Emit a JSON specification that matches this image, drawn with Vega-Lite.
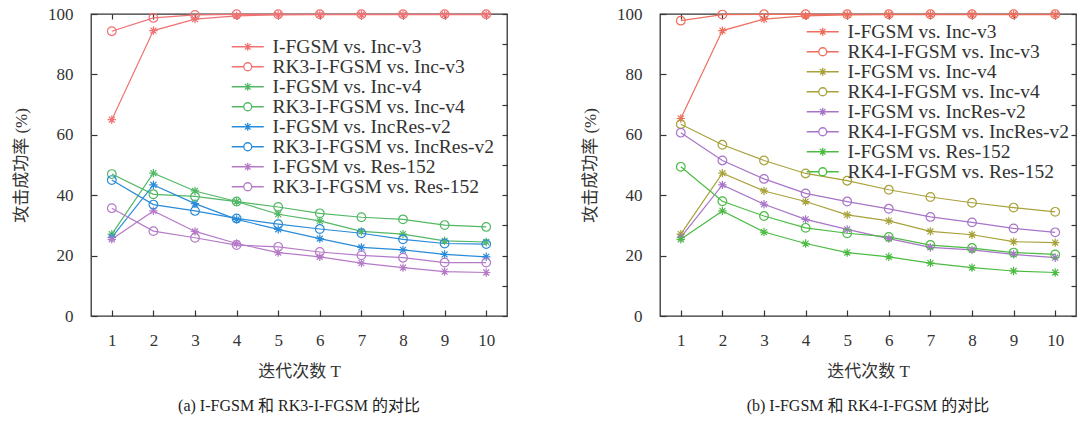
{
  "$schema": "https://vega.github.io/schema/vega-lite/v6.json",
  "padding": {"left": 11, "top": 4, "right": 4, "bottom": 0},
  "background": "white",
  "bounds": "flush",
  "spacing": 153,
  "resolve": {"scale": {"color": "independent"}, "legend": {"color": "independent"}},
  "config": {
    "font": "'Liberation Serif', 'Times New Roman', serif",
    "view": {"stroke": "#333", "strokeWidth": 1.3},
    "axis": {"domain": false, "grid": false, "tickColor": "#333", "tickWidth": 1.2, "labelColor": "#333", "titleColor": "#333",
      "labelFont": "'Liberation Serif', serif", "labelFontSize": 17, "titleFont": "'Liberation Serif', 'Noto Sans CJK SC', serif", "titleFontSize": 17,
      "titleFontWeight": "normal", "tickSize": -6, "labelFlush": false, "labelOverlap": false, "labelBound": false},
    "legend": {"orient": "none", "title": null, "padding": 0, "labelFont": "'Liberation Serif', serif", "labelFontSize": 19.5, "labelColor": "#333",
      "labelLimit": 400, "symbolSize": 100, "symbolOffset": 10, "labelOffset": 15, "rowPadding": -2.4, "symbolStrokeWidth": 1.3}
  },
  "datasets": {
    "a": [
      {"s":"I-FGSM vs. Inc-v3","t":1,"v":65.0},{"s":"I-FGSM vs. Inc-v3","t":2,"v":94.5},{"s":"I-FGSM vs. Inc-v3","t":3,"v":98.3},{"s":"I-FGSM vs. Inc-v3","t":4,"v":99.4},{"s":"I-FGSM vs. Inc-v3","t":5,"v":99.7},{"s":"I-FGSM vs. Inc-v3","t":6,"v":99.8},{"s":"I-FGSM vs. Inc-v3","t":7,"v":99.8},{"s":"I-FGSM vs. Inc-v3","t":8,"v":99.8},{"s":"I-FGSM vs. Inc-v3","t":9,"v":99.8},{"s":"I-FGSM vs. Inc-v3","t":10,"v":99.8},
      {"s":"RK3-I-FGSM vs. Inc-v3","t":1,"v":94.3},{"s":"RK3-I-FGSM vs. Inc-v3","t":2,"v":98.7},{"s":"RK3-I-FGSM vs. Inc-v3","t":3,"v":99.7},{"s":"RK3-I-FGSM vs. Inc-v3","t":4,"v":99.9},{"s":"RK3-I-FGSM vs. Inc-v3","t":5,"v":99.9},{"s":"RK3-I-FGSM vs. Inc-v3","t":6,"v":99.9},{"s":"RK3-I-FGSM vs. Inc-v3","t":7,"v":99.9},{"s":"RK3-I-FGSM vs. Inc-v3","t":8,"v":99.9},{"s":"RK3-I-FGSM vs. Inc-v3","t":9,"v":99.9},{"s":"RK3-I-FGSM vs. Inc-v3","t":10,"v":99.9},
      {"s":"I-FGSM vs. Inc-v4","t":1,"v":27.1},{"s":"I-FGSM vs. Inc-v4","t":2,"v":47.3},{"s":"I-FGSM vs. Inc-v4","t":3,"v":41.4},{"s":"I-FGSM vs. Inc-v4","t":4,"v":37.9},{"s":"I-FGSM vs. Inc-v4","t":5,"v":33.7},{"s":"I-FGSM vs. Inc-v4","t":6,"v":31.5},{"s":"I-FGSM vs. Inc-v4","t":7,"v":28.0},{"s":"I-FGSM vs. Inc-v4","t":8,"v":27.1},{"s":"I-FGSM vs. Inc-v4","t":9,"v":24.9},{"s":"I-FGSM vs. Inc-v4","t":10,"v":24.5},
      {"s":"RK3-I-FGSM vs. Inc-v4","t":1,"v":47.0},{"s":"RK3-I-FGSM vs. Inc-v4","t":2,"v":40.3},{"s":"RK3-I-FGSM vs. Inc-v4","t":3,"v":39.6},{"s":"RK3-I-FGSM vs. Inc-v4","t":4,"v":37.9},{"s":"RK3-I-FGSM vs. Inc-v4","t":5,"v":36.1},{"s":"RK3-I-FGSM vs. Inc-v4","t":6,"v":34.0},{"s":"RK3-I-FGSM vs. Inc-v4","t":7,"v":32.7},{"s":"RK3-I-FGSM vs. Inc-v4","t":8,"v":32.0},{"s":"RK3-I-FGSM vs. Inc-v4","t":9,"v":30.1},{"s":"RK3-I-FGSM vs. Inc-v4","t":10,"v":29.5},
      {"s":"I-FGSM vs. IncRes-v2","t":1,"v":26.0},{"s":"I-FGSM vs. IncRes-v2","t":2,"v":43.4},{"s":"I-FGSM vs. IncRes-v2","t":3,"v":37.2},{"s":"I-FGSM vs. IncRes-v2","t":4,"v":32.0},{"s":"I-FGSM vs. IncRes-v2","t":5,"v":28.7},{"s":"I-FGSM vs. IncRes-v2","t":6,"v":25.6},{"s":"I-FGSM vs. IncRes-v2","t":7,"v":22.7},{"s":"I-FGSM vs. IncRes-v2","t":8,"v":21.9},{"s":"I-FGSM vs. IncRes-v2","t":9,"v":20.4},{"s":"I-FGSM vs. IncRes-v2","t":10,"v":19.6},
      {"s":"RK3-I-FGSM vs. IncRes-v2","t":1,"v":45.0},{"s":"RK3-I-FGSM vs. IncRes-v2","t":2,"v":36.9},{"s":"RK3-I-FGSM vs. IncRes-v2","t":3,"v":34.8},{"s":"RK3-I-FGSM vs. IncRes-v2","t":4,"v":32.3},{"s":"RK3-I-FGSM vs. IncRes-v2","t":5,"v":30.4},{"s":"RK3-I-FGSM vs. IncRes-v2","t":6,"v":28.8},{"s":"RK3-I-FGSM vs. IncRes-v2","t":7,"v":27.4},{"s":"RK3-I-FGSM vs. IncRes-v2","t":8,"v":25.4},{"s":"RK3-I-FGSM vs. IncRes-v2","t":9,"v":24.0},{"s":"RK3-I-FGSM vs. IncRes-v2","t":10,"v":23.8},
      {"s":"I-FGSM vs. Res-152","t":1,"v":25.4},{"s":"I-FGSM vs. Res-152","t":2,"v":34.8},{"s":"I-FGSM vs. Res-152","t":3,"v":28.0},{"s":"I-FGSM vs. Res-152","t":4,"v":24.0},{"s":"I-FGSM vs. Res-152","t":5,"v":21.0},{"s":"I-FGSM vs. Res-152","t":6,"v":19.6},{"s":"I-FGSM vs. Res-152","t":7,"v":17.5},{"s":"I-FGSM vs. Res-152","t":8,"v":16.0},{"s":"I-FGSM vs. Res-152","t":9,"v":14.7},{"s":"I-FGSM vs. Res-152","t":10,"v":14.4},
      {"s":"RK3-I-FGSM vs. Res-152","t":1,"v":35.7},{"s":"RK3-I-FGSM vs. Res-152","t":2,"v":28.1},{"s":"RK3-I-FGSM vs. Res-152","t":3,"v":25.9},{"s":"RK3-I-FGSM vs. Res-152","t":4,"v":23.5},{"s":"RK3-I-FGSM vs. Res-152","t":5,"v":22.9},{"s":"RK3-I-FGSM vs. Res-152","t":6,"v":21.2},{"s":"RK3-I-FGSM vs. Res-152","t":7,"v":20.1},{"s":"RK3-I-FGSM vs. Res-152","t":8,"v":19.3},{"s":"RK3-I-FGSM vs. Res-152","t":9,"v":17.7},{"s":"RK3-I-FGSM vs. Res-152","t":10,"v":17.7}
    ],
    "b": [
      {"s":"I-FGSM vs. Inc-v3","t":1,"v":65.4},{"s":"I-FGSM vs. Inc-v3","t":2,"v":94.5},{"s":"I-FGSM vs. Inc-v3","t":3,"v":98.3},{"s":"I-FGSM vs. Inc-v3","t":4,"v":99.4},{"s":"I-FGSM vs. Inc-v3","t":5,"v":99.7},{"s":"I-FGSM vs. Inc-v3","t":6,"v":99.8},{"s":"I-FGSM vs. Inc-v3","t":7,"v":99.8},{"s":"I-FGSM vs. Inc-v3","t":8,"v":99.8},{"s":"I-FGSM vs. Inc-v3","t":9,"v":99.8},{"s":"I-FGSM vs. Inc-v3","t":10,"v":99.8},
      {"s":"RK4-I-FGSM vs. Inc-v3","t":1,"v":97.8},{"s":"RK4-I-FGSM vs. Inc-v3","t":2,"v":99.8},{"s":"RK4-I-FGSM vs. Inc-v3","t":3,"v":99.9},{"s":"RK4-I-FGSM vs. Inc-v3","t":4,"v":99.9},{"s":"RK4-I-FGSM vs. Inc-v3","t":5,"v":99.9},{"s":"RK4-I-FGSM vs. Inc-v3","t":6,"v":99.9},{"s":"RK4-I-FGSM vs. Inc-v3","t":7,"v":99.9},{"s":"RK4-I-FGSM vs. Inc-v3","t":8,"v":99.9},{"s":"RK4-I-FGSM vs. Inc-v3","t":9,"v":99.9},{"s":"RK4-I-FGSM vs. Inc-v3","t":10,"v":99.9},
      {"s":"I-FGSM vs. Inc-v4","t":1,"v":27.1},{"s":"I-FGSM vs. Inc-v4","t":2,"v":47.3},{"s":"I-FGSM vs. Inc-v4","t":3,"v":41.4},{"s":"I-FGSM vs. Inc-v4","t":4,"v":37.9},{"s":"I-FGSM vs. Inc-v4","t":5,"v":33.5},{"s":"I-FGSM vs. Inc-v4","t":6,"v":31.5},{"s":"I-FGSM vs. Inc-v4","t":7,"v":28.0},{"s":"I-FGSM vs. Inc-v4","t":8,"v":26.9},{"s":"I-FGSM vs. Inc-v4","t":9,"v":24.6},{"s":"I-FGSM vs. Inc-v4","t":10,"v":24.3},
      {"s":"RK4-I-FGSM vs. Inc-v4","t":1,"v":63.5},{"s":"RK4-I-FGSM vs. Inc-v4","t":2,"v":56.7},{"s":"RK4-I-FGSM vs. Inc-v4","t":3,"v":51.5},{"s":"RK4-I-FGSM vs. Inc-v4","t":4,"v":47.2},{"s":"RK4-I-FGSM vs. Inc-v4","t":5,"v":44.8},{"s":"RK4-I-FGSM vs. Inc-v4","t":6,"v":41.8},{"s":"RK4-I-FGSM vs. Inc-v4","t":7,"v":39.4},{"s":"RK4-I-FGSM vs. Inc-v4","t":8,"v":37.5},{"s":"RK4-I-FGSM vs. Inc-v4","t":9,"v":35.9},{"s":"RK4-I-FGSM vs. Inc-v4","t":10,"v":34.5},
      {"s":"I-FGSM vs. IncRes-v2","t":1,"v":26.0},{"s":"I-FGSM vs. IncRes-v2","t":2,"v":43.4},{"s":"I-FGSM vs. IncRes-v2","t":3,"v":37.0},{"s":"I-FGSM vs. IncRes-v2","t":4,"v":32.0},{"s":"I-FGSM vs. IncRes-v2","t":5,"v":28.7},{"s":"I-FGSM vs. IncRes-v2","t":6,"v":25.6},{"s":"I-FGSM vs. IncRes-v2","t":7,"v":22.7},{"s":"I-FGSM vs. IncRes-v2","t":8,"v":21.9},{"s":"I-FGSM vs. IncRes-v2","t":9,"v":20.4},{"s":"I-FGSM vs. IncRes-v2","t":10,"v":19.3},
      {"s":"RK4-I-FGSM vs. IncRes-v2","t":1,"v":60.7},{"s":"RK4-I-FGSM vs. IncRes-v2","t":2,"v":51.5},{"s":"RK4-I-FGSM vs. IncRes-v2","t":3,"v":45.4},{"s":"RK4-I-FGSM vs. IncRes-v2","t":4,"v":40.6},{"s":"RK4-I-FGSM vs. IncRes-v2","t":5,"v":37.9},{"s":"RK4-I-FGSM vs. IncRes-v2","t":6,"v":35.5},{"s":"RK4-I-FGSM vs. IncRes-v2","t":7,"v":32.8},{"s":"RK4-I-FGSM vs. IncRes-v2","t":8,"v":31.0},{"s":"RK4-I-FGSM vs. IncRes-v2","t":9,"v":29.0},{"s":"RK4-I-FGSM vs. IncRes-v2","t":10,"v":27.7},
      {"s":"I-FGSM vs. Res-152","t":1,"v":25.4},{"s":"I-FGSM vs. Res-152","t":2,"v":34.8},{"s":"I-FGSM vs. Res-152","t":3,"v":27.8},{"s":"I-FGSM vs. Res-152","t":4,"v":24.0},{"s":"I-FGSM vs. Res-152","t":5,"v":21.0},{"s":"I-FGSM vs. Res-152","t":6,"v":19.6},{"s":"I-FGSM vs. Res-152","t":7,"v":17.5},{"s":"I-FGSM vs. Res-152","t":8,"v":16.0},{"s":"I-FGSM vs. Res-152","t":9,"v":14.9},{"s":"I-FGSM vs. Res-152","t":10,"v":14.4},
      {"s":"RK4-I-FGSM vs. Res-152","t":1,"v":49.4},{"s":"RK4-I-FGSM vs. Res-152","t":2,"v":38.0},{"s":"RK4-I-FGSM vs. Res-152","t":3,"v":33.1},{"s":"RK4-I-FGSM vs. Res-152","t":4,"v":29.2},{"s":"RK4-I-FGSM vs. Res-152","t":5,"v":27.4},{"s":"RK4-I-FGSM vs. Res-152","t":6,"v":26.2},{"s":"RK4-I-FGSM vs. Res-152","t":7,"v":23.5},{"s":"RK4-I-FGSM vs. Res-152","t":8,"v":22.5},{"s":"RK4-I-FGSM vs. Res-152","t":9,"v":21.0},{"s":"RK4-I-FGSM vs. Res-152","t":10,"v":20.4}
    ]
  },
  "hconcat": [
    {
      "data": {"name": "a"},
      "width": 416, "height": 302,
      "title": {"text": "(a) I-FGSM 和 RK3-I-FGSM 的对比", "orient": "bottom", "offset": 19, "fontSize": 16, "font": "'Liberation Serif', 'Noto Sans CJK SC', serif", "fontWeight": "normal", "color": "#222"},
      "resolve": {"axis": {"x": "independent", "y": "independent"}},
      "layer": [
        {
          "mark": {"type": "line", "strokeWidth": 1.2},
          "encoding": {
            "x": {"field": "t", "type": "quantitative", "scale": {"domain": [0.5, 10.5], "nice": false, "zero": false},
              "axis": {"orient": "bottom", "values": [1,2,3,4,5,6,7,8,9,10], "title": "迭代次数 T", "labelPadding": 22, "titlePadding": 15}},
            "y": {"field": "v", "type": "quantitative", "scale": {"domain": [0, 100], "nice": false},
              "axis": {"orient": "left", "values": [0,20,40,60,80,100], "title": "攻击成功率 (%)", "labelPadding": 24, "titlePadding": 17}},
            "color": {"field": "s", "type": "nominal",
              "scale": {"domain": ["I-FGSM vs. Inc-v3","RK3-I-FGSM vs. Inc-v3","I-FGSM vs. Inc-v4","RK3-I-FGSM vs. Inc-v4","I-FGSM vs. IncRes-v2","RK3-I-FGSM vs. IncRes-v2","I-FGSM vs. Res-152","RK3-I-FGSM vs. Res-152"],
                "range": ["#F07272","#F07272","#52B866","#52B866","#2A8BD8","#2A8BD8","#B57BC8","#B57BC8"]},
              "legend": {"legendX": 137, "legendY": 23, "labelFont": "'Liberation Serif', serif", "labelFontSize": 19.5,
                "encode": {"symbols": {"update": {
                  "shape": {"signal": "indexof(datum.value, 'I-FGSM') == 0 ? 'M-3.2,0L3.2,0M0,-0.8L0,0.8M-0.57,-0.57L0.57,0.57M-0.57,0.57L0.57,-0.57' : 'M-3.2,0L-0.8,0M0.8,0L3.2,0M0.8,0A0.8,0.8,0,1,1,-0.8,0A0.8,0.8,0,1,1,0.8,0'"},
                  "fill": {"value": "transparent"}, "strokeWidth": {"value": 1.3}, "opacity": {"value": 1}}}}}}
          }
        },
        {
          "transform": [{"filter": "indexof(datum.s, 'I-FGSM') == 0"}],
          "mark": {"type": "point", "filled": false, "strokeWidth": 1.2, "size": 70, "opacity": 1, "shape": "M-1,0L1,0M0,-1L0,1M-0.71,-0.71L0.71,0.71M-0.71,0.71L0.71,-0.71"},
          "encoding": {
            "x": {"field": "t", "type": "quantitative", "scale": {"domain": [0.5, 10.5], "nice": false, "zero": false}, "axis": null},
            "y": {"field": "v", "type": "quantitative", "scale": {"domain": [0, 100], "nice": false}, "axis": null},
            "color": {"field": "s", "type": "nominal"}
          }
        },
        {
          "transform": [{"filter": "indexof(datum.s, 'I-FGSM') != 0"}],
          "mark": {"type": "point", "filled": false, "strokeWidth": 1.2, "size": 75, "opacity": 1, "shape": "circle"},
          "encoding": {
            "x": {"field": "t", "type": "quantitative", "scale": {"domain": [0.5, 10.5], "nice": false, "zero": false}, "axis": null},
            "y": {"field": "v", "type": "quantitative", "scale": {"domain": [0, 100], "nice": false}, "axis": null},
            "color": {"field": "s", "type": "nominal"}
          }
        },
        {
          "mark": {"type": "point", "opacity": 0},
          "encoding": {
            "x": {"field": "t", "type": "quantitative", "scale": {"domain": [0.5, 10.5], "nice": false, "zero": false},
              "axis": {"orient": "top", "values": [1,2,3,4,5,6,7,8,9,10], "labels": false, "title": null, "tickSize": -5}},
            "y": {"field": "v", "type": "quantitative", "scale": {"domain": [0, 100], "nice": false},
              "axis": {"orient": "right", "values": [0,10,20,30,40,50,60,70,80,90,100], "labels": false, "title": null, "tickSize": -5}}
          }
        }
      ]
    },
    {
      "data": {"name": "b"},
      "width": 416, "height": 302,
      "title": {"text": "(b) I-FGSM 和 RK4-I-FGSM 的对比", "orient": "bottom", "offset": 19, "fontSize": 16, "font": "'Liberation Serif', 'Noto Sans CJK SC', serif", "fontWeight": "normal", "color": "#222"},
      "resolve": {"axis": {"x": "independent", "y": "independent"}},
      "layer": [
        {
          "mark": {"type": "line", "strokeWidth": 1.2},
          "encoding": {
            "x": {"field": "t", "type": "quantitative", "scale": {"domain": [0.5, 10.5], "nice": false, "zero": false},
              "axis": {"orient": "bottom", "values": [1,2,3,4,5,6,7,8,9,10], "title": "迭代次数 T", "labelPadding": 22, "titlePadding": 15}},
            "y": {"field": "v", "type": "quantitative", "scale": {"domain": [0, 100], "nice": false},
              "axis": {"orient": "left", "values": [0,20,40,60,80,100], "title": "攻击成功率 (%)", "labelPadding": 24, "titlePadding": 17}},
            "color": {"field": "s", "type": "nominal",
              "scale": {"domain": ["I-FGSM vs. Inc-v3","RK4-I-FGSM vs. Inc-v3","I-FGSM vs. Inc-v4","RK4-I-FGSM vs. Inc-v4","I-FGSM vs. IncRes-v2","RK4-I-FGSM vs. IncRes-v2","I-FGSM vs. Res-152","RK4-I-FGSM vs. Res-152"],
                "range": ["#EE6E5E","#EE6E5E","#A8A23A","#A8A23A","#A874C8","#A874C8","#4CBB44","#4CBB44"]},
              "legend": {"legendX": 143, "legendY": 8, "labelFont": "'Liberation Serif', serif", "labelFontSize": 19.5,
                "encode": {"symbols": {"update": {
                  "shape": {"signal": "indexof(datum.value, 'I-FGSM') == 0 ? 'M-3.2,0L3.2,0M0,-0.8L0,0.8M-0.57,-0.57L0.57,0.57M-0.57,0.57L0.57,-0.57' : 'M-3.2,0L-0.8,0M0.8,0L3.2,0M0.8,0A0.8,0.8,0,1,1,-0.8,0A0.8,0.8,0,1,1,0.8,0'"},
                  "fill": {"value": "transparent"}, "strokeWidth": {"value": 1.3}, "opacity": {"value": 1}}}}}}
          }
        },
        {
          "transform": [{"filter": "indexof(datum.s, 'I-FGSM') == 0"}],
          "mark": {"type": "point", "filled": false, "strokeWidth": 1.2, "size": 70, "opacity": 1, "shape": "M-1,0L1,0M0,-1L0,1M-0.71,-0.71L0.71,0.71M-0.71,0.71L0.71,-0.71"},
          "encoding": {
            "x": {"field": "t", "type": "quantitative", "scale": {"domain": [0.5, 10.5], "nice": false, "zero": false}, "axis": null},
            "y": {"field": "v", "type": "quantitative", "scale": {"domain": [0, 100], "nice": false}, "axis": null},
            "color": {"field": "s", "type": "nominal"}
          }
        },
        {
          "transform": [{"filter": "indexof(datum.s, 'I-FGSM') != 0"}],
          "mark": {"type": "point", "filled": false, "strokeWidth": 1.2, "size": 75, "opacity": 1, "shape": "circle"},
          "encoding": {
            "x": {"field": "t", "type": "quantitative", "scale": {"domain": [0.5, 10.5], "nice": false, "zero": false}, "axis": null},
            "y": {"field": "v", "type": "quantitative", "scale": {"domain": [0, 100], "nice": false}, "axis": null},
            "color": {"field": "s", "type": "nominal"}
          }
        },
        {
          "mark": {"type": "point", "opacity": 0},
          "encoding": {
            "x": {"field": "t", "type": "quantitative", "scale": {"domain": [0.5, 10.5], "nice": false, "zero": false},
              "axis": {"orient": "top", "values": [1,2,3,4,5,6,7,8,9,10], "labels": false, "title": null, "tickSize": -5}},
            "y": {"field": "v", "type": "quantitative", "scale": {"domain": [0, 100], "nice": false},
              "axis": {"orient": "right", "values": [0,10,20,30,40,50,60,70,80,90,100], "labels": false, "title": null, "tickSize": -5}}
          }
        }
      ]
    }
  ]
}
